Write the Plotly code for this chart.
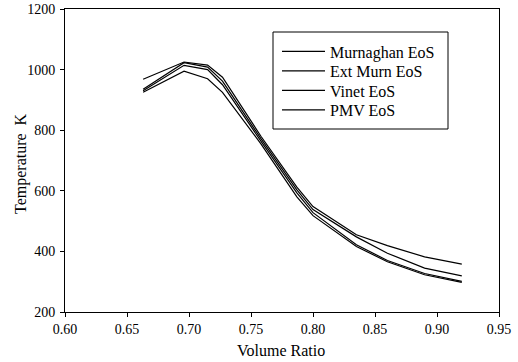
import plotly.graph_objects as go

volume_ratio = [0.663, 0.696, 0.715, 0.727, 0.758, 0.787, 0.80, 0.835, 0.86, 0.89, 0.92]
murnaghan = [968, 1025, 1015, 975, 780, 612, 548, 455, 419, 382, 358]
ext_murn = [935, 1023, 1008, 962, 772, 603, 538, 448, 394, 345, 319]
vinet = [930, 1014, 1000, 950, 764, 593, 528, 422, 370, 327, 301]
pmv = [925, 995, 970, 925, 755, 580, 518, 416, 366, 323, 298]

series_names = ["Murnaghan EoS", "Ext Murn EoS", "Vinet EoS", "PMV EoS"]
series_values = [murnaghan, ext_murn, vinet, pmv]
x_ticks = [0.60, 0.65, 0.70, 0.75, 0.80, 0.85, 0.90, 0.95]
y_ticks = [200, 400, 600, 800, 1000, 1200]

FONT = "Liberation Serif"

L, R, T, B = 65, 19, 9, 50
W, H = 518, 362
pw, ph = W - L - R, H - T - B

def px2paper(px, py):
    return (px - L) / pw, (H - B - py) / ph

legend_ids = ["legend", "legend2", "legend3", "legend4"]
legend_rows = [51.5, 71, 90.5, 110]

fig = go.Figure()
for name, vals, lid in zip(series_names, series_values, legend_ids):
    fig.add_trace(go.Scatter(x=volume_ratio, y=vals, name=name, mode="lines",
                             legend=lid, line=dict(color="black", width=1.2)))

legend_layout = {}
for lid, row in zip(legend_ids, legend_rows):
    lx, ly = px2paper(277, row)
    legend_layout[lid] = dict(x=lx, y=ly, xanchor="left", yanchor="middle",
                              bgcolor="rgba(0,0,0,0)", borderwidth=0, itemwidth=43,
                              font=dict(family=FONT, size=16, color="black"))

fig.update_layout(
    width=W, height=H,
    margin=dict(l=L, r=R, t=T, b=B, autoexpand=False),
    paper_bgcolor="white", plot_bgcolor="white",
    font=dict(family=FONT, size=14, color="black"),
    showlegend=True,
    xaxis=dict(range=[0.6, 0.95], tickvals=x_ticks, tickformat=".2f",
               ticks="outside", ticklen=4, tickcolor="black", tickwidth=1,
               showline=True, linecolor="black", linewidth=1, mirror=True,
               showgrid=False, zeroline=False, automargin=False,
               tickfont=dict(family=FONT, size=14, color="black")),
    yaxis=dict(range=[200, 1200], tickvals=y_ticks,
               ticks="outside", ticklen=4, tickcolor="black", tickwidth=1,
               showline=True, linecolor="black", linewidth=1, mirror=True,
               showgrid=False, zeroline=False, automargin=False,
               ticklabelstandoff=2,
               tickfont=dict(family=FONT, size=14, color="black")),
    **legend_layout,
)

# legend frame
x0, y0 = px2paper(273, 32)
x1, y1 = px2paper(448, 129)
fig.add_shape(type="rect", xref="paper", yref="paper", x0=x0, y0=y1, x1=x1, y1=y0,
              line=dict(color="black", width=1), fillcolor="rgba(0,0,0,0)", layer="above")

ax, ay = px2paper(281, 350)
fig.add_annotation(text="Volume Ratio", xref="paper", yref="paper", x=ax, y=ay,
                   xanchor="center", yanchor="middle", showarrow=False,
                   font=dict(family=FONT, size=16, color="black"))
tx, ty = px2paper(21, 164)
fig.add_annotation(text="Temperature  K", xref="paper", yref="paper", x=tx, y=ty,
                   xanchor="center", yanchor="middle", showarrow=False, textangle=-90,
                   font=dict(family=FONT, size=16, color="black"))

fig.write_html("out.html")
